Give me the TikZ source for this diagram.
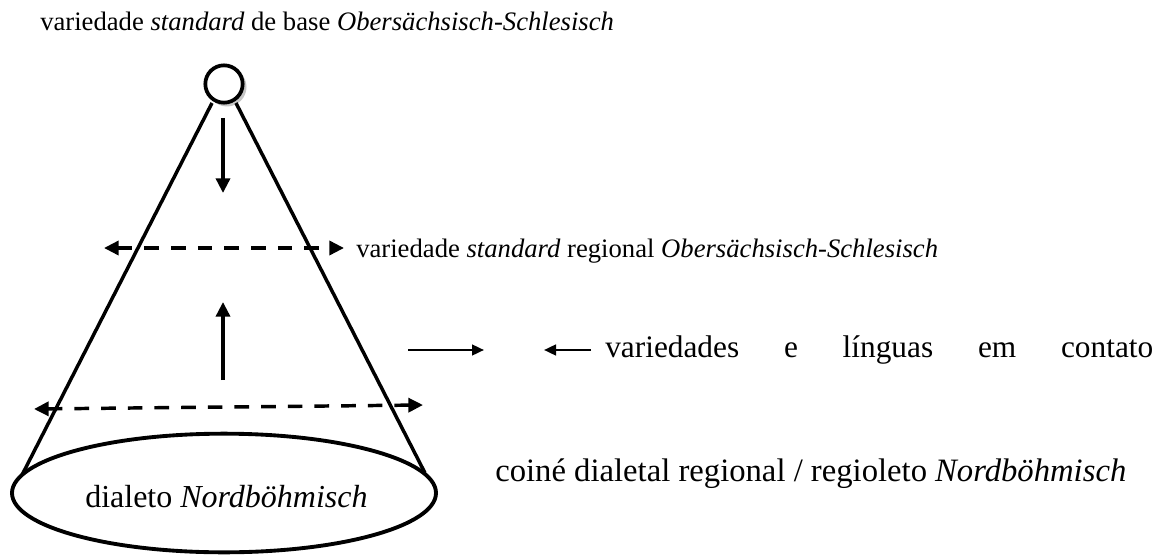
\documentclass[tikz,border=0pt]{standalone}
\usepackage{fontspec}
\setmainfont{Liberation Serif}
\usetikzlibrary{arrows.meta,shapes.geometric}
\begin{document}
\begin{tikzpicture}[x=0.75pt,y=-0.75pt,
  line/.style={line width=2.6pt},
  dashline/.style={line width=2.6pt,dash pattern=on 11pt off 9pt},
  tip/.style={-{Triangle[length=11pt,width=10.5pt]}},
  dtip/.style={{Triangle[length=11pt,width=10.5pt]}-{Triangle[length=11pt,width=10.5pt]}},
  smalltip/.style={-{Triangle[length=9pt,width=8pt]}},
  lbl/.style={inner sep=0pt,anchor=base west}]
\useasboundingbox (0,0) rectangle (1166,556);
% shadow of the top circle
\fill[gray!45] (227,87) circle (19.5);
\node[circle,draw,line width=2.8pt,fill=white,minimum size=28pt,inner sep=0pt] (top) at (224,84) {};
% base ellipse
\node[ellipse,draw,line width=2.9pt,minimum width=318pt,minimum height=89pt,inner sep=0pt] (base) at (224,493) {};
\node[lbl,font=\fontsize{24}{28}\selectfont] (baselbl) at (85,507) {dialeto \textit{Nordböhmisch}};
% cone sides
\coordinate (tl) at (212,103);
\coordinate (tr) at (236,103);
\coordinate (bl) at (22,475);
\coordinate (br) at (425,473);
\draw[line] (tl) -- (bl);
\draw[line] (tr) -- (br);
% vertical arrows
\coordinate (d1) at (223,118);
\coordinate (d2) at (223,193);
\draw[line,tip] (d1) -- (d2);
\coordinate (u1) at (223,380);
\coordinate (u2) at (223,302);
\draw[line,tip] (u1) -- (u2);
% dashed arrows
\coordinate (a1) at (104,248);
\coordinate (a2) at (344,248);
\draw[dashline,dtip] (a1) -- (a2);
\coordinate (b1) at (34,409);
\coordinate (b2) at (423,405);
\draw[dashline,dtip] (b1) -- (b2);
% small horizontal arrows
\coordinate (r1) at (408,350);
\coordinate (r2) at (484,350);
\draw[line width=1.8pt,smalltip] (r1) -- (r2);
\coordinate (l1) at (591,350);
\coordinate (l2) at (544,350);
\draw[line width=1.8pt,smalltip] (l1) -- (l2);
% labels
\node[lbl,font=\fontsize{20}{24}\selectfont] (t1) at (40,31) {variedade \textit{standard} de base \textit{Obersächsisch-Schlesisch}};
\node[lbl,font=\fontsize{20}{24}\selectfont] (t2) at (356,257) {variedade \textit{standard} regional \textit{Obersächsisch-Schlesisch}};
\node[lbl,font=\fontsize{23.5}{27}\selectfont,text width=548*0.75pt,align=justify] (t3) at (605,357) {variedades\hfill e\hfill línguas\hfill em\hfill contato};
\node[lbl,font=\fontsize{24.5}{28}\selectfont] (t4) at (495,481) {coiné dialetal regional / regioleto \textit{Nordböhmisch}};
\end{tikzpicture}
\end{document}
